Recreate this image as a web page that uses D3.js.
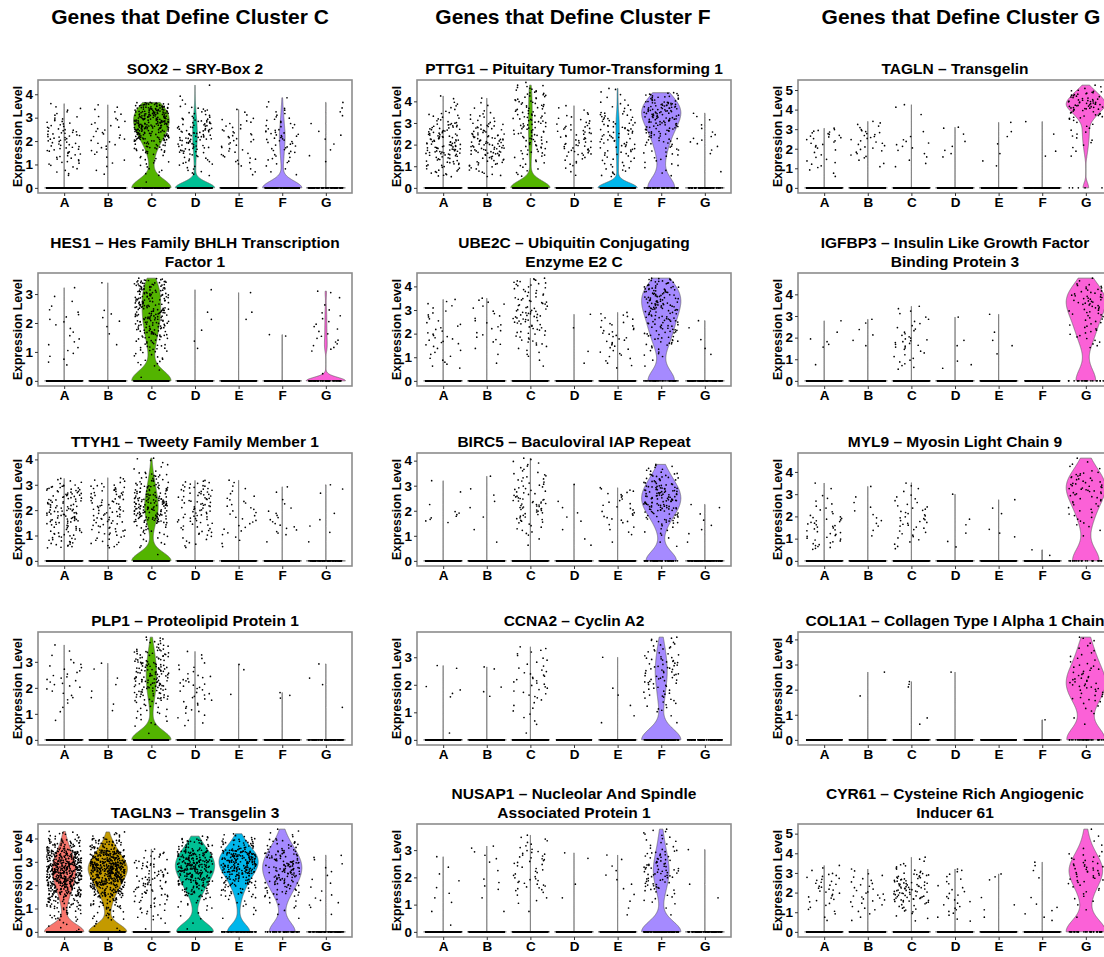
<!DOCTYPE html>
<meta charset="utf-8">
<script src="https://d3js.org/d3.v7.min.js"></script>
<style>
  body { margin: 0; background: #fff; }
  text { font-family: "Liberation Sans", Arial, sans-serif; font-weight: bold; fill: #000; }
</style>
<div id="my_dataviz"></div>
<script>

// clusters, their colours and number of cells
var clusters = ["A", "B", "C", "D", "E", "F", "G"]
var clusterColors = ["#F8766D", "#C49A00", "#53B400", "#00C094", "#00B6EB", "#A58AFF", "#FB61D7"]
var clusterSizes = [950, 800, 450, 440, 350, 220, 92]

// expressing cells are counted in bins of 0.5 (0-0.5, 0.5-1, ...);
// every cell not counted there sits at 0. "max" is the highest value of each cluster.
var binWidth = 0.5

var columnTitles = ["Genes that Define Cluster C", "Genes that Define Cluster F", "Genes that Define Cluster G"]

// ---- column 1
var sox2Title = ["SOX2 – SRY-Box 2"]
var sox2Max = [3.6, 3.55, 3.65, 4.39, 3.35, 3.85, 3.65]
var sox2Bins = [[0,7,14,18,22,14,7,1], [0,3,4,8,9,8,5,1], [1,7,11,28,63,85,81,20], [0,9,14,25,33,27,13,3,1], [0,4,10,10,12,9,3], [0,4,9,13,18,11,7,2], [0,0,2,2,3,1,3,1]]

var hes1Title = ["HES1 – Hes Family BHLH Transcription", "Factor 1"]
var hes1Max = [3.22, 3.39, 3.55, 3.15, 3.05, 1.6, 3.1]
var hes1Bins = [[0,5,5,4,6,3,1], [0,0,1,2,4,0,1], [2,13,25,45,56,56,54,3], [0,0,2,1,2,0,1], [0,0,0,0,2,0,1], [0,0,0,2], [1,0,8,6,5,2,2]]

var ttyh1Title = ["TTYH1 – Tweety Family Member 1"]
var ttyh1Max = [3.25, 3.28, 4.05, 3.17, 3.18, 2.92, 3.0]
var ttyh1Bins = [[0,20,22,35,28,30,5], [0,12,18,22,22,22,6], [1,8,16,52,58,39,23,6,2], [0,8,14,20,22,22,6], [0,4,7,8,8,5,2], [0,1,8,6,3,2], [0,1,2,2,0,3]]

var plp1Title = ["PLP1 – Proteolipid Protein 1"]
var plp1Max = [3.65, 2.95, 3.95, 3.4, 2.9, 1.82, 2.92]
var plp1Bins = [[0,1,3,6,10,8,3,1], [0,0,2,2,2,2], [1,8,13,32,43,43,31,13], [0,5,8,10,12,6,3], [0,0,0,1,0,2], [0,0,0,3], [0,0,1,0,2,1]]

var tagln3Title = ["TAGLN3 – Transgelin 3"]
var tagln3Max = [4.3, 4.28, 3.55, 4.1, 4.2, 4.4, 3.28]
var tagln3Bins = [[7,20,40,85,130,150,110,48,10], [5,16,33,72,125,170,110,45,8], [2,10,14,21,24,20,13,1], [2,4,11,35,61,88,75,31,3], [0,3,7,22,44,80,84,35,5], [0,3,7,22,35,44,35,19,5], [0,1,5,3,3,3,3]]

// ---- column 2
var pttg1Title = ["PTTG1 – Pituitary Tumor-Transforming 1"]
var pttg1Max = [4.25, 4.15, 4.75, 3.8, 4.6, 4.4, 3.45]
var pttg1Bins = [[0,15,20,35,30,25,12,6,2], [0,10,18,30,28,20,10,4,1], [0,6,8,15,18,20,20,18,17,6,2], [0,3,8,18,15,15,8,3], [0,10,10,15,17,19,16,7,4,2], [0,4,7,11,17,26,38,43,19], [0,1,0,3,6,3,3]]

var ube2cTitle = ["UBE2C – Ubiquitin Conjugating", "Enzyme E2 C"]
var ube2cMax = [3.45, 3.5, 4.35, 2.82, 2.9, 4.35, 2.55]
var ube2cBins = [[0,6,6,10,7,6,5], [0,1,2,5,6,5,6], [0,2,6,12,15,23,17,13,12], [0,1,1,0,1,1], [0,5,8,10,10,7], [0,2,8,18,23,27,38,36,18], [0,0,2,1,1,1]]

var birc5Title = ["BIRC5 – Baculoviral IAP Repeat"]
var birc5Max = [3.2, 3.38, 4.1, 3.05, 2.92, 3.85, 2.25]
var birc5Bins = [[0,0,0,8,1,1,1], [0,1,1,1,2,2,1], [0,2,8,15,25,15,12,8,2], [0,2,1,3,2,0,1], [0,1,5,10,8,9], [0,3,8,25,45,45,25,9], [0,1,3,2,2]]

var ccna2Title = ["CCNA2 – Cyclin A2"]
var ccna2Max = [2.7, 2.65, 3.38, 0, 3.0, 3.73, 0]
var ccna2Bins = [[1,0,0,4,0,2], [0,0,0,3,0,2], [1,4,5,10,12,7,6], [], [0,2,1,2,0,0,1], [0,2,10,14,22,22,14,6], []]

var nusap1Title = ["NUSAP1 – Nucleolar And Spindle", "Associated Protein 1"]
var nusap1Max = [2.76, 3.15, 3.55, 2.9, 2.82, 3.77, 3.02]
var nusap1Bins = [[1,1,3,2,2,1], [0,1,1,4,1,4,2], [0,1,5,15,10,15,8,1], [0,0,1,1,0,2], [0,2,2,3,3,2], [0,2,8,22,30,22,10,6], [0,0,1,1,0,0,1]]

// ---- column 3
var taglnTitle = ["TAGLN – Transgelin"]
var taglnMax = [3.05, 3.4, 4.25, 3.1, 3.35, 3.39, 5.25]
var taglnBins = [[0,3,6,4,8,12,1], [0,0,3,7,8,10,5], [0,0,3,3,6,2,0,1,2], [0,0,0,3,2,1,2], [0,0,2,1,1,2,1], [0,0,0,2,0,1,1], [0,0,0,2,4,5,5,16,32,20,3]]

var igfbp3Title = ["IGFBP3 – Insulin Like Growth Factor", "Binding Protein 3"]
var igfbp3Max = [2.78, 2.85, 3.45, 2.95, 3.08, 0, 4.75]
var igfbp3Bins = [[0,1,0,4,1,1], [0,0,0,2,2,2], [0,6,6,12,7,5,4], [0,3,0,2,0,1], [0,0,1,2,1,0,1], [], [0,0,0,6,8,9,14,19,14,2]]

var myl9Title = ["MYL9 – Myosin Light Chain 9"]
var myl9Max = [3.5, 3.35, 3.52, 3.0, 2.75, 0.5, 4.62]
var myl9Bins = [[0,12,12,14,6,4,2], [0,0,2,4,3,2,1], [0,5,8,12,10,6,4], [0,2,1,2,0,1], [0,0,3,0,2,1], [1,1], [0,0,2,6,7,11,19,15,5,1]]

var col1a1Title = ["COL1A1 – Collagen Type I Alpha 1 Chain"]
var col1a1Max = [0, 2.7, 2.32, 2.7, 0, 0.8, 4.09]
var col1a1Bins = [[], [0,0,0,1,0,1], [0,2,0,0,3], [0,0,0,0,0,1], [], [0,1], [0,2,5,12,17,12,7,5,2]]

var cyr61Title = ["CYR61 – Cysteine Rich Angiogenic", "Inducer 61"]
var cyr61Max = [3.38, 3.2, 3.8, 3.2, 2.95, 3.55, 5.23]
var cyr61Bins = [[0,3,5,8,10,10,3], [0,3,6,10,7,6,2], [0,4,11,26,29,22,9,3], [0,5,6,6,5,4,3], [0,1,2,1,0,3], [0,3,3,1,0,1,2,1], [0,1,2,4,6,12,15,9,3,2,1]]

var panels = [
  {title: sox2Title, max: sox2Max, bins: sox2Bins, col: 0, row: 0},
  {title: hes1Title, max: hes1Max, bins: hes1Bins, col: 0, row: 1},
  {title: ttyh1Title, max: ttyh1Max, bins: ttyh1Bins, col: 0, row: 2},
  {title: plp1Title, max: plp1Max, bins: plp1Bins, col: 0, row: 3},
  {title: tagln3Title, max: tagln3Max, bins: tagln3Bins, col: 0, row: 4},
  {title: pttg1Title, max: pttg1Max, bins: pttg1Bins, col: 1, row: 0},
  {title: ube2cTitle, max: ube2cMax, bins: ube2cBins, col: 1, row: 1},
  {title: birc5Title, max: birc5Max, bins: birc5Bins, col: 1, row: 2},
  {title: ccna2Title, max: ccna2Max, bins: ccna2Bins, col: 1, row: 3},
  {title: nusap1Title, max: nusap1Max, bins: nusap1Bins, col: 1, row: 4},
  {title: taglnTitle, max: taglnMax, bins: taglnBins, col: 2, row: 0},
  {title: igfbp3Title, max: igfbp3Max, bins: igfbp3Bins, col: 2, row: 1},
  {title: myl9Title, max: myl9Max, bins: myl9Bins, col: 2, row: 2},
  {title: col1a1Title, max: col1a1Max, bins: col1a1Bins, col: 2, row: 3},
  {title: cyr61Title, max: cyr61Max, bins: cyr61Bins, col: 2, row: 4}
]

// layout
var width = 1104, height = 957
var colLeft = [38, 417, 798]
var rowTop = [80, 273, 453, 632, 824]
var headerX = [190, 573, 961]
var panelW = 314, panelH = 113

var svg = d3.select("#my_dataviz")
  .append("svg")
    .attr("width", width)
    .attr("height", height)

columnTitles.forEach(function(t, i) {
  svg.append("text")
    .attr("x", headerX[i])
    .attr("y", 24)
    .attr("text-anchor", "middle")
    .style("font-size", "21px")
    .text(t)
})

// all cells of one cluster: zeros first, then the counted values laid out inside their bins
function cellValues(size, bins, max) {
  var nz = []
  var last = -1
  bins.forEach(function(k, b) { if (k > 0) last = b })
  bins.forEach(function(k, b) {
    var lo = b * binWidth, hi = Math.min(lo + binWidth, max)
    for (var i = 0; i < k; i++) {
      if (b === last) nz.push(lo + (i + 1) / k * (hi - lo))
      else nz.push(lo + (i + 0.5) / k * (hi - lo))
    }
  })
  return d3.range(size - nz.length).map(function() { return 0 }).concat(nz)
}

// R's bw.nrd0; zeros carry a tiny noise in Seurat, so an IQR of 0 becomes ~1e-5
function bandwidth(x) {
  var s = x.slice().sort(d3.ascending)
  var hi = d3.deviation(x)
  var lo = Math.min(hi, (d3.quantileSorted(s, 0.75) - d3.quantileSorted(s, 0.25)) / 1.34)
  if (!(lo > 0)) lo = 1e-5
  return 0.9 * lo * Math.pow(x.length, -0.2)
}

// like stats::density(n = 512, from = 0, to = max): linear binning + gaussian kernel,
// then scaled so the widest point of the violin is 1 (scale = "width")
function violinProfile(values, max) {
  var n = 512
  var bw = bandwidth(values)
  var lo = -4 * bw, up = max + 4 * bw
  var delta = (up - lo) / (n - 1)
  var mass = new Float64Array(n)
  values.forEach(function(v) {
    var pos = (v - lo) / delta
    var ix = Math.floor(pos), fx = pos - ix
    if (ix >= 0 && ix < n) mass[ix] += 1 - fx
    if (ix + 1 >= 0 && ix + 1 < n) mass[ix + 1] += fx
  })
  var reach = Math.ceil(7 * bw / delta)
  var dens = new Float64Array(n)
  for (var k = 0; k < n; k++) {
    if (!mass[k]) continue
    var a = Math.max(0, k - reach), b = Math.min(n - 1, k + reach)
    for (var j = a; j <= b; j++) {
      var u = (j - k) * delta / bw
      dens[j] += mass[k] * Math.exp(-0.5 * u * u)
    }
  }
  var out = d3.range(n).map(function(i) {
    var yv = i / (n - 1) * max
    var pos = (yv - lo) / delta
    var ix = Math.min(n - 2, Math.floor(pos)), fx = pos - ix
    return [yv, dens[ix] * (1 - fx) + dens[ix + 1] * fx]
  })
  var top = d3.max(out, function(d) { return d[1] })
  return out.map(function(d) { return [d[0], d[1] / top] })
}

// horizontal jitter position (deterministic, in [0, 1))
function jitter(i, seed) {
  var s = Math.sin(i * 12.9898 + seed * 78.233) * 43758.5453
  return s - Math.floor(s)
}

var x = d3.scalePoint()
  .domain(clusters)
  .range([0, panelW])
  .padding(0.6)
var step = x.step()

panels.forEach(function(p, pi) {
  var g = svg.append("g")
    .attr("transform", "translate(" + colLeft[p.col] + "," + rowTop[p.row] + ")")

  var ymax = d3.max(p.max)
  var y = d3.scaleLinear()
    .domain([-0.05 * ymax, 1.05 * ymax])
    .range([panelH, 0])

  var groups = clusters.map(function(c, ci) {
    return {cluster: c, color: clusterColors[ci], max: p.max[ci],
            values: cellValues(clusterSizes[ci], p.bins[ci], p.max[ci])}
  })

  // violins
  var area = d3.area()
    .y(function(d) { return y(d[0]) })
    .x0(function(d) { return -d[1] * 0.45 * step })
    .x1(function(d) { return d[1] * 0.45 * step })

  groups.forEach(function(gr) {
    if (gr.max <= 0) return
    g.append("path")
      .attr("transform", "translate(" + x(gr.cluster) + ",0)")
      .attr("d", area(violinProfile(gr.values, gr.max)))
      .attr("fill", gr.color)
      .attr("stroke", "#555")
      .attr("stroke-width", 0.6)
  })

  // jittered cells
  groups.forEach(function(gr, ci) {
    var seed = ci + pi * 7 + 1
    g.append("g").selectAll("circle")
      .data(gr.values)
      .join("circle")
        .attr("cx", function(d, i) { return x(gr.cluster) + (jitter(i, seed) - 0.5) * 0.8 * step })
        .attr("cy", function(d) { return y(d) })
        .attr("r", 0.85)
        .attr("fill", "#000")
  })

  // frame
  g.append("rect")
    .attr("width", panelW)
    .attr("height", panelH)
    .attr("fill", "none")
    .attr("stroke", "#8c8c8c")
    .attr("stroke-width", 1.6)

  // axes
  var ya = g.append("g")
    .call(d3.axisLeft(y).tickValues(d3.range(0, Math.floor(ymax) + 1)).tickSize(3).tickPadding(2).tickFormat(d3.format("d")))
  ya.select(".domain").remove()
  ya.selectAll("text").style("font-size", "13.5px")
  ya.selectAll("line").attr("stroke", "#333")

  var xa = g.append("g")
    .attr("transform", "translate(0," + panelH + ")")
    .call(d3.axisBottom(x).tickSize(3).tickPadding(1))
  xa.select(".domain").remove()
  xa.selectAll("text").style("font-size", "13.5px")
  xa.selectAll("line").attr("stroke", "#333")

  g.append("text")
    .attr("transform", "translate(-16.5," + panelH / 2 + ") rotate(-90)")
    .attr("text-anchor", "middle")
    .style("font-size", "12.3px")
    .text("Expression Level")

  // panel title, last line sits just above the frame
  p.title.forEach(function(line, li) {
    g.append("text")
      .attr("x", panelW / 2)
      .attr("y", -6.5 - (p.title.length - 1 - li) * 19)
      .attr("text-anchor", "middle")
      .style("font-size", "15.5px")
      .text(line)
  })
})

</script>
